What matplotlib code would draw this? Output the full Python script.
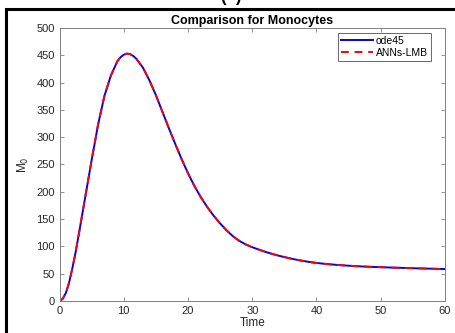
import matplotlib.pyplot as plt
from matplotlib.patches import Rectangle

plt.rcParams['font.family'] = ['Liberation Sans', 'DejaVu Sans']

# values
time = [0, 0.5, 1, 1.5, 2, 2.5, 3, 4, 5, 6, 7, 8, 9, 9.5, 10, 10.5, 11, 11.5,
        12, 13, 14, 15, 16, 17, 18, 19, 20, 21, 22, 23, 24, 25, 26, 27, 28,
        29, 30, 31, 32, 33, 34, 35, 36, 37, 38, 39, 40, 41, 42, 43, 44, 45,
        46, 47, 48, 49, 50, 51, 52, 53, 54, 55, 56, 57, 58, 59, 60]
m0 = [0, 4, 15, 34, 60, 89, 122, 190, 258, 323, 376, 413, 439, 446.5, 451,
      453, 452, 448.5, 443, 427, 404, 377, 347, 317, 288, 260, 234, 210.5,
      190, 172, 156, 142, 129.5, 118.5, 110, 103.5, 98.5, 94.2, 90.2, 86.6,
      83.3, 80.4, 77.7, 75.3, 73.2, 71.3, 69.7, 68.4, 67.3, 66.3, 65.4, 64.6,
      63.9, 63.3, 62.8, 62.3, 61.9, 61.5, 61.1, 60.75, 60.4, 60.05, 59.7,
      59.4, 59.1, 58.8, 58.5]

fig = plt.figure(figsize=(4.55, 3.33), dpi=100)
ax = fig.add_axes([0.1308, 0.0961, 0.9780 - 0.1308, 0.916 - 0.0961])

ax.plot(time, m0, '-', color='#0000ff', lw=1.4, label='ode45')
ax.plot(time, m0, '--', color='#ff0000', lw=1.4, dashes=(4, 3), label='ANNs-LMB')

ax.set_xlim(0, 60)
ax.set_ylim(0, 500)
ax.set_xticks(range(0, 61, 10))
ax.set_yticks(range(0, 501, 50))
ax.tick_params(direction='in', length=3, width=0.6, colors='#808080',
               labelcolor='#262626', labelsize=8, top=True, right=True)
for sp in ax.spines.values():
    sp.set_color('#808080')
    sp.set_linewidth(0.7)

ax.set_title('Comparison for Monocytes', fontsize=9, fontweight='bold', pad=3)
ax.set_xlabel('Time', fontsize=8.5, color='#262626', labelpad=1)
ax.set_ylabel('M$_0$', fontsize=8.5, color='#262626', labelpad=4)

leg = ax.legend(loc='upper right', bbox_to_anchor=(1 - 14 / 385.5, 1 - 5 / 273),
                borderaxespad=0, fontsize=7.5, frameon=True, fancybox=False,
                handlelength=3.0, handletextpad=0.3, borderpad=0.3,
                labelspacing=0.15)
leg.get_frame().set_edgecolor('#262626')
leg.get_frame().set_linewidth(0.6)

# black frame and cut-off panel label of the source figure
fig.add_artist(Rectangle((6 / 455, -0.1), 1.2, 1 - 9 / 333 + 0.1,
                         transform=fig.transFigure, fill=False,
                         edgecolor='black', lw=2.2))
fig.text(0.508, 1.0 - 5 / 333, '(  )', ha='center', va='bottom',
         fontsize=12, fontweight='bold')

fig.savefig('out.png', dpi=100)
